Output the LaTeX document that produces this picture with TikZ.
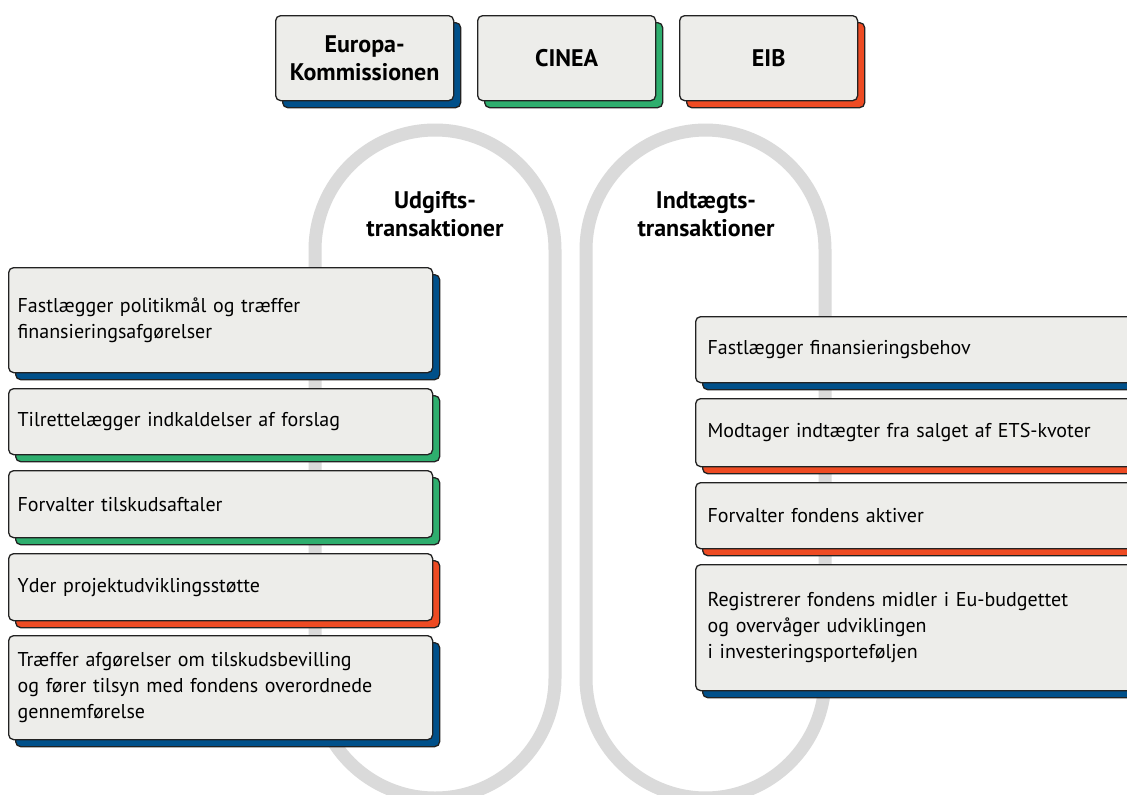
\documentclass[tikz,border=0pt]{standalone}
\usepackage{fontspec}
\setmainfont{PT Sans}
\usetikzlibrary{shadows}
\definecolor{eublue}{HTML}{00508A}
\definecolor{eugreen}{HTML}{2EAE6E}
\definecolor{euorange}{HTML}{EE4B23}
\definecolor{boxfill}{HTML}{EDEDEA}
\definecolor{loopgrey}{HTML}{DADADA}
\definecolor{edge}{HTML}{222222}
\begin{document}
\begin{tikzpicture}[x=1pt,y=-1pt,
  card/.style={draw=edge, line width=1.3pt, fill=boxfill, rounded corners=5pt,
    anchor=north west, inner sep=0pt, align=left,
    font=\fontsize{20}{26}\selectfont},
  cardshadow/.style={general shadow={fill=#1, draw=edge, line width=1.3pt,
    shadow xshift=7pt, shadow yshift=-7pt}},
  leftcard/.style={card, minimum width=424pt, text width=406pt},
  rightcard/.style={card, minimum width=445pt, text width=421pt},
  topcard/.style={card, align=center, minimum width=178pt, minimum height=85pt,
    font=\fontsize{24}{28}\selectfont\bfseries},
  loop/.style={draw=loopgrey, line width=13pt, rounded corners=120pt},
  title/.style={align=center, font=\fontsize{24}{28}\selectfont\bfseries}
]
\useasboundingbox (0,0) rectangle (1127,795);
\clip (0,0) rectangle (1127,795);
\fill[white] (0,0) rectangle (1127,795);

% loops
\draw[loop] (315,130) rectangle (555,798);
\draw[loop] (586,130) rectangle (825,798);

% titles
\node[title] (tu) at (435,214) {Udgifts-\\transaktioner};
\node[title] (ti) at (706,214) {Indtægts-\\transaktioner};

% top cards
\node[topcard, cardshadow=eublue] (ek) at (275,15) {Europa-\\Kommissionen};
\node[topcard, cardshadow=eugreen] (cinea) at (477,15) {CINEA};
\node[topcard, cardshadow=euorange] (eib) at (679,15) {EIB};

% left cards
\node[leftcard, cardshadow=eublue, minimum height=105pt] (l1) at (8,267)
  {Fastlægger politikmål og træffer\\finansieringsafgørelser};
\node[leftcard, cardshadow=eugreen, minimum height=66pt] (l2) at (8,388)
  {Tilrettelægger indkaldelser af forslag};
\node[leftcard, cardshadow=eugreen, minimum height=67pt] (l3) at (8,470)
  {Forvalter tilskudsaftaler};
\node[leftcard, cardshadow=euorange, minimum height=67pt] (l4) at (8,553)
  {Yder projektudviklingsstøtte};
\node[leftcard, cardshadow=eublue, minimum height=104pt] (l5) at (8,635)
  {Træffer afgørelser om tilskudsbevilling\\og fører tilsyn med fondens overordnede\\gennemførelse};

% right cards
\node[rightcard, cardshadow=eublue, minimum height=66pt] (r1) at (695,316)
  {Fastlægger finansieringsbehov};
\node[rightcard, cardshadow=euorange, minimum height=68pt] (r2) at (695,398)
  {Modtager indtægter fra salget af ETS-kvoter};
\node[rightcard, cardshadow=euorange, minimum height=66pt] (r3) at (695,482)
  {Forvalter fondens aktiver};
\node[rightcard, cardshadow=eublue, minimum height=126pt] (r4) at (695,564)
  {Registrerer fondens midler i Eu-budgettet\\og overvåger udviklingen\\i investeringsporteføljen};
\end{tikzpicture}
\end{document}
